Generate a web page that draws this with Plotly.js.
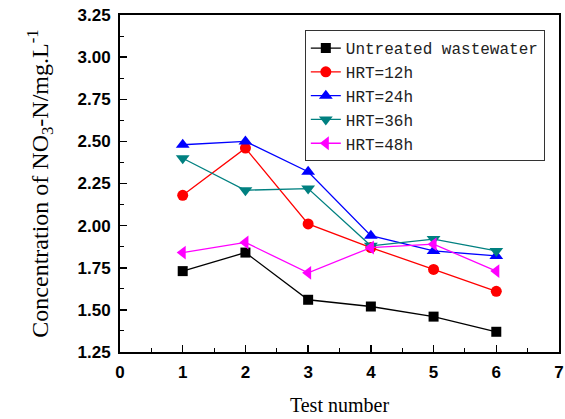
<!DOCTYPE html>
<html>
<head>
<meta charset="utf-8">
<script src="https://cdn.plot.ly/plotly-3.0.1.min.js"></script>
<style>html,body{margin:0;padding:0;background:#fff;}#chart{width:565px;height:419px;}</style>
</head>
<body>
<div id="chart"></div>
<script>
const testNumbers = [1, 2, 3, 4, 5, 6];
const seriesNames = ["Untreated wastewater", "HRT=12h", "HRT=24h", "HRT=36h", "HRT=48h"];
const untreated = [1.73, 1.84, 1.56, 1.52, 1.46, 1.37];
const hrt12 = [2.18, 2.46, 2.01, 1.87, 1.74, 1.61];
const hrt24 = [2.48, 2.50, 2.32, 1.94, 1.85, 1.82];
const hrt36 = [2.40, 2.21, 2.22, 1.88, 1.92, 1.85];
const hrt48 = [1.84, 1.90, 1.72, 1.87, 1.89, 1.73];
const xTickVals = [0, 1, 2, 3, 4, 5, 6, 7];
const yTickVals = [1.25, 1.50, 1.75, 2.00, 2.25, 2.50, 2.75, 3.00, 3.25];
const yTickText = ["1.25", "1.50", "1.75", "2.00", "2.25", "2.50", "2.75", "3.00", "3.25"];

const seriesValues = [untreated, hrt12, hrt24, hrt36, hrt48];
const colors = ["#000000", "#FF0000", "#0000FF", "#008080", "#FF00FF"];
const symbols = ["square", "circle", "triangle-up", "triangle-down", "triangle-left"];
const sizes = [10, 11, 12, 12, 12];

const traces = seriesValues.map((vals, i) => ({
  x: testNumbers,
  y: vals,
  name: seriesNames[i],
  type: "scatter",
  mode: "lines+markers",
  line: {color: colors[i], width: 1.3},
  marker: {color: colors[i], symbol: symbols[i], size: sizes[i], line: {width: 0}}
}));

const axisCommon = {
  showline: true, linecolor: "#000", linewidth: 2, mirror: true,
  ticks: "inside", ticklen: 7, tickwidth: 1.5, tickcolor: "#000",
  showgrid: false, zeroline: false,
  tickfont: {family: "Liberation Sans, Arial, sans-serif", size: 17, color: "#000", weight: "bold"}
};

const layout = {
  width: 565, height: 419,
  margin: {l: 120, r: 6, t: 15, b: 67},
  paper_bgcolor: "#fff", plot_bgcolor: "#fff",
  showlegend: true,
  legend: {
    x: 0.421, y: 0.955, xanchor: "left", yanchor: "top",
    bgcolor: "#fff", bordercolor: "#333", borderwidth: 1,
    font: {family: "Liberation Mono, monospace", size: 16, color: "#222"},
    tracegroupgap: 0, itemwidth: 30
  },
  xaxis: Object.assign({}, axisCommon, {
    range: [0, 7], tickvals: xTickVals, ticktext: xTickVals.map(String),
    minor: {dtick: 0.5, tick0: 0, ticks: "inside", ticklen: 4, tickwidth: 1, tickcolor: "#000"},
    ticklabelstandoff: 4,
    title: {text: "Test number", font: {family: "Liberation Serif, Times New Roman, serif", size: 20, color: "#000"}, standoff: 17}
  }),
  yaxis: Object.assign({}, axisCommon, {
    range: [1.25, 3.25], tickvals: yTickVals, ticktext: yTickText,
    minor: {dtick: 0.125, tick0: 1.25, ticks: "inside", ticklen: 4, tickwidth: 1, tickcolor: "#000"},
    ticklabelstandoff: 4,
    title: {text: "Concentration of NO<sub>3</sub>-N/mg.L<sup>-1</sup>", font: {family: "Liberation Serif, Times New Roman, serif", size: 24, color: "#000"}, standoff: 22}
  })
};

Plotly.newPlot("chart", traces, layout, {displayModeBar: false, staticPlot: true});
</script>
</body>
</html>
